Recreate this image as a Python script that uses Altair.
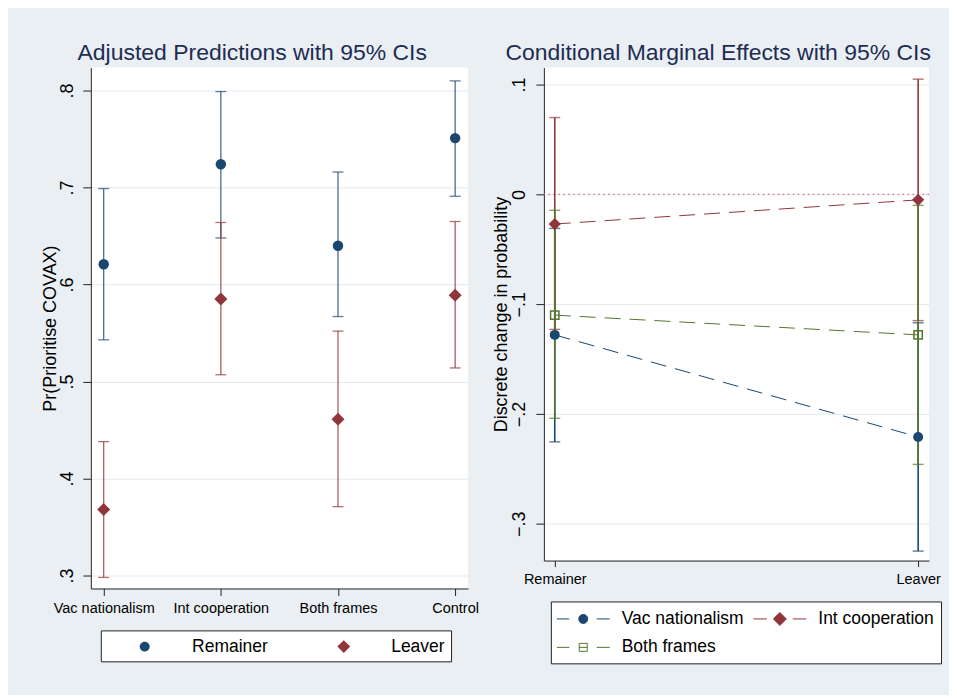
import altair as alt
import pandas as pd

# ---------------- data: left panel (adjusted predictions) ----------------
frames = ["Vac nationalism", "Int cooperation", "Both frames", "Control"]
groups = ["Remainer", "Leaver"]
remainer_est = [0.621, 0.724, 0.640, 0.751]
remainer_lo = [0.543, 0.648, 0.567, 0.691]
remainer_hi = [0.699, 0.799, 0.716, 0.810]
leaver_est = [0.368, 0.585, 0.461, 0.589]
leaver_lo = [0.298, 0.507, 0.371, 0.514]
leaver_hi = [0.438, 0.664, 0.552, 0.665]
left_ticks = [0.3, 0.4, 0.5, 0.6, 0.7, 0.8]

# ---------------- data: right panel (marginal effects) ----------------
series = ["Vac nationalism", "Int cooperation", "Both frames"]
vac_est = [-0.128, -0.221]
vac_lo = [-0.2255, -0.325]
vac_hi = [-0.031, -0.117]
int_est = [-0.027, -0.005]
int_lo = [-0.123, -0.115]
int_hi = [0.070, 0.105]
both_est = [-0.110, -0.128]
both_lo = [-0.204, -0.246]
both_hi = [-0.0145, -0.010]
right_ticks = [-0.3, -0.2, -0.1, 0.0, 0.1]
zero_line = [0.0]

# ---------------- styling ----------------
BLUE, RED, GREEN = "#1a476f", "#90353b", "#55752f"
colors_left = [BLUE, RED]
colors_right = [BLUE, RED, GREEN]
BG = "#e9eff2"
GRID = "#e4e9ee"
FONT = "Liberation Sans"
TITLE_COLOR = "#1e2c54"
LABEXPR = "replace(format(datum.value, '.1~f'), '0.', '.')"

left_df = pd.DataFrame({
    "frame": frames * 2,
    "group": [groups[0]] * len(frames) + [groups[1]] * len(frames),
    "est": remainer_est + leaver_est,
    "lo": remainer_lo + leaver_lo,
    "hi": remainer_hi + leaver_hi,
})

right_df = pd.DataFrame({
    "grp": groups * 3,
    "series": [s for s in series for _ in groups],
    "est": vac_est + int_est + both_est,
    "lo": vac_lo + int_lo + both_lo,
    "hi": vac_hi + int_hi + both_hi,
})
zero_df = pd.DataFrame({"y": zero_line})

# ---------------- left panel ----------------
xL = alt.X("frame:N", sort=frames,
           scale=alt.Scale(type="point", domain=frames, padding=0.11),
           axis=alt.Axis(title=None, labelAngle=0, labelFontSize=14.5, tickSize=7,
                         labelPadding=6, grid=False, labelOverlap=False))
yL_scale = alt.Scale(domain=[0.2866, 0.8237], nice=False, zero=False)
yL_axis = alt.Axis(values=left_ticks, title="Pr(Prioritise COVAX)", labelExpr=LABEXPR,
                   labelAngle=270, labelAlign="center", labelBaseline="bottom",
                   tickSize=8, labelPadding=6, labelFontSize=18, titleFontSize=18,
                   titlePadding=-1, grid=True, gridColor=GRID, labelOverlap=False)


def yL(field):
    return alt.Y(field, type="quantitative", scale=yL_scale, axis=yL_axis)


baseL = alt.Chart(left_df)
layersL = []
for g, c in zip(groups, colors_left):
    sub = baseL.transform_filter(alt.datum.group == g)
    layersL.append(sub.mark_rule(strokeWidth=1.2, color=c, strokeOpacity=0.85)
                   .encode(x=xL, y=yL("lo"), y2="hi:Q"))
    for f in ["lo", "hi"]:
        layersL.append(sub.mark_tick(orient="horizontal", size=11, thickness=1.3, color=c)
                       .encode(x=xL, y=yL(f)))
for g, c, shp, sz in zip(groups, colors_left, ["circle", "diamond"], [110, 170]):
    layersL.append(baseL.transform_filter(alt.datum.group == g)
                   .mark_point(shape=shp, filled=True, size=sz, opacity=1, color=c)
                   .encode(x=xL, y=yL("est")))

legL_paths = [
    "M2.3,0A0.5,0.5,0,1,1,3.3,0A0.5,0.5,0,1,1,2.3,0Z",
    "M2.15,0L2.8,-0.65L3.45,0L2.8,0.65Z",
]
legL = alt.Legend(title=None, orient="none", legendX=10, legendY=564, direction="horizontal",
                  columns=2, padding=6, fillColor="white", strokeColor="#222",
                  symbolSize=400, symbolStrokeWidth=0, symbolOpacity=1, labelOffset=65.5,
                  columnPadding=37.5, labelFontSize=17.5, labelFont=FONT, labelColor="black")
legend_layerL = baseL.mark_point(filled=True, opacity=0).encode(
    x=xL, y=yL("est"),
    color=alt.Color("group:N", scale=alt.Scale(domain=groups, range=colors_left), legend=legL),
    shape=alt.Shape("group:N", scale=alt.Scale(domain=groups, range=legL_paths), legend=legL),
)

left = alt.layer(*layersL, legend_layerL).properties(
    width=378, height=522,
    title=alt.TitleParams("Adjusted Predictions with 95% CIs", fontSize=23, font=FONT,
                          fontWeight="normal", color=TITLE_COLOR, anchor="middle",
                          frame="bounds", baseline="bottom", offset=-20, dx=-8),
)

# ---------------- right panel ----------------
xR = alt.X("grp:N", sort=groups,
           scale=alt.Scale(type="point", domain=groups, padding=0.03),
           axis=alt.Axis(title=None, labelAngle=0, labelFontSize=14.5, tickSize=6,
                         labelPadding=6, grid=False, labelOverlap=False))
yR_scale = alt.Scale(domain=[-0.3336, 0.1155], nice=False, zero=False)
yR_axis = alt.Axis(values=right_ticks, title="Discrete change in probability", labelExpr=LABEXPR,
                   labelAngle=270, labelAlign="center", labelBaseline="bottom",
                   tickSize=8, labelPadding=7, labelFontSize=18, titleFontSize=18,
                   titlePadding=0, grid=True, gridColor=GRID, labelOverlap=False)


def yR(field):
    return alt.Y(field, type="quantitative", scale=yR_scale, axis=yR_axis)


baseR = alt.Chart(right_df)
layersR = [alt.Chart(zero_df).mark_rule(color="#d66a78", strokeWidth=1.1, strokeDash=[1.5, 3.5])
           .encode(y=yR("y"))]
for s, c in zip(series, colors_right):
    sub = baseR.transform_filter(alt.datum.series == s)
    layersR.append(sub.mark_rule(strokeWidth=1.6, color=c).encode(x=xR, y=yR("lo"), y2="hi:Q"))
    for f in ["lo", "hi"]:
        layersR.append(sub.mark_tick(orient="horizontal", size=11, thickness=1.4, color=c)
                       .encode(x=xR, y=yR(f)))
for s, c in zip(series, colors_right):
    layersR.append(baseR.transform_filter(alt.datum.series == s)
                   .mark_line(strokeWidth=1, strokeDash=[16, 9], color=c)
                   .encode(x=xR, y=yR("est")))
for s, c, shp, fil, sz in zip(series, colors_right, ["circle", "diamond", "square"],
                              [True, True, False], [100, 150, 70]):
    layersR.append(baseR.transform_filter(alt.datum.series == s)
                   .mark_point(shape=shp, filled=fil, size=sz, strokeWidth=1.5, opacity=1, color=c)
                   .encode(x=xR, y=yR("est")))

legR_paths = [
    "M-1.15,0H0.1M2.85,0H4.15M1.05,0A0.45,0.45,0,1,1,1.95,0A0.45,0.45,0,1,1,1.05,0Z",
    "M-1.15,0H0.2M2.8,0H4.15M0.85,0L1.5,-0.65L2.15,0L1.5,0.65Z",
    "M-1.15,0H0.1M2.85,0H4.15M1.1,-0.4H1.9V0.4H1.1ZM1.1,0H1.9",
]
legR = alt.Legend(title=None, orient="none", legendX=7, legendY=535, direction="horizontal",
                  columns=2, padding=7, fillColor="white", strokeColor="#222",
                  symbolSize=400, symbolStrokeWidth=1, symbolOpacity=1, labelOffset=43,
                  columnPadding=7, rowPadding=9.5, labelFontSize=17.5, labelFont=FONT,
                  labelColor="black")
legend_layerR = baseR.mark_point(opacity=0).encode(
    x=xR, y=yR("est"),
    stroke=alt.Stroke("series:N", scale=alt.Scale(domain=series, range=colors_right), legend=legR),
    fill=alt.Fill("series:N", scale=alt.Scale(domain=series, range=[BLUE, RED, "transparent"]),
                  legend=legR),
    shape=alt.Shape("series:N", scale=alt.Scale(domain=series, range=legR_paths), legend=legR),
)

right = alt.layer(*layersR, legend_layerR).properties(
    width=386, height=494,
    title=alt.TitleParams("Conditional Marginal Effects with 95% CIs", fontSize=23, font=FONT,
                          fontWeight="normal", color=TITLE_COLOR, anchor="middle",
                          frame="bounds", baseline="bottom", offset=-20, dx=1),
)

chart = (
    alt.hconcat(left, right, spacing=13)
    .resolve_scale(color="independent", shape="independent", stroke="independent",
                   fill="independent")
    .resolve_legend(color="independent", shape="independent", stroke="independent",
                    fill="independent")
    .configure(background=BG, padding={"left": 33, "top": 33, "right": 7, "bottom": 30})
    .configure_view(fill="white", strokeWidth=0)
    .configure_axis(domainColor="#222", tickColor="#222", domainWidth=1, tickWidth=1,
                    labelFont=FONT, titleFont=FONT, labelColor="black", titleColor="black",
                    titleFontWeight="normal")
)

chart.save("out.html", embed_options={"renderer": "svg", "actions": False})
